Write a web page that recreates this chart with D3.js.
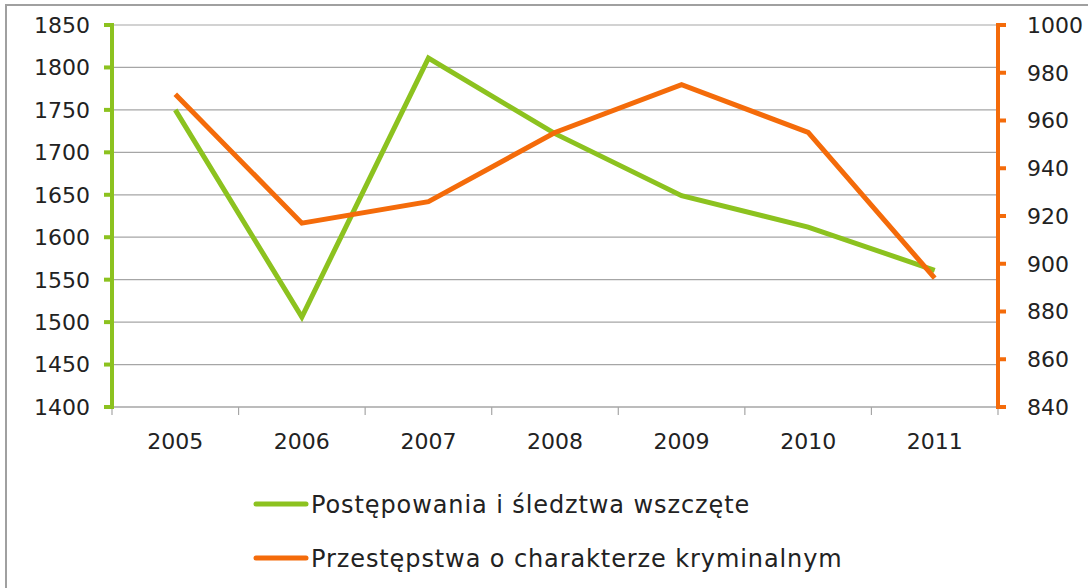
<!DOCTYPE html>
<html>
<head>
<meta charset="utf-8">
<script src="https://cdn.jsdelivr.net/npm/d3@7"></script>
<style>
  body { margin: 0; background: #fff; }
  svg text { font-family: "DejaVu Sans", sans-serif; fill: #222; }
</style>
</head>
<body>
<div id="chart"></div>
<script>
// Dual axis line chart: proceedings vs criminal offences 2005-2011

const years = ["2005", "2006", "2007", "2008", "2009", "2010", "2011"];
const postepowania = [1750, 1506, 1811, 1722, 1649, 1612, 1561];
const przestepstwa = [971, 917, 926, 955, 975, 955, 894];
const leftTicks = [1400, 1450, 1500, 1550, 1600, 1650, 1700, 1750, 1800, 1850];
const rightTicks = [840, 860, 880, 900, 920, 940, 960, 980, 1000];
const seriesNames = ["Postępowania i śledztwa wszczęte", "Przestępstwa o charakterze kryminalnym"];

const width = 1088, height = 588;
const plotLeft = 112, plotRight = 998, plotTop = 25, plotBottom = 407;
const green = "#8cc21f", orange = "#f46b0a";

const svg = d3.select("#chart")
    .append("svg")
    .attr("width", width)
    .attr("height", height);

// outer frame (right and bottom edges fall outside the picture)
svg.append("rect")
    .attr("x", 6).attr("y", 5)
    .attr("width", 1200).attr("height", 700)
    .attr("fill", "none")
    .attr("stroke", "#a0a0a0")
    .attr("stroke-width", 2);

const x = d3.scaleBand().domain(years).range([plotLeft, plotRight]).padding(0);
const yL = d3.scaleLinear().domain([1400, 1850]).range([plotBottom, plotTop]);
const yR = d3.scaleLinear().domain([840, 1000]).range([plotBottom, plotTop]);

// gridlines
svg.append("g")
    .selectAll("line")
    .data(leftTicks)
    .join("line")
    .attr("x1", plotLeft).attr("x2", plotRight)
    .attr("y1", d => yL(d)).attr("y2", d => yL(d))
    .attr("stroke", "#a6a6a6")
    .attr("stroke-width", 1.2);

// x axis: line with ticks at category boundaries
const xAxis = svg.append("g");
xAxis.append("line")
    .attr("x1", plotLeft).attr("x2", plotRight)
    .attr("y1", plotBottom).attr("y2", plotBottom)
    .attr("stroke", "#a6a6a6").attr("stroke-width", 1.2);
xAxis.selectAll("line.tick")
    .data(years.concat(["end"]))
    .join("line")
    .attr("class", "tick")
    .attr("x1", d => d === "end" ? plotRight : x(d))
    .attr("x2", d => d === "end" ? plotRight : x(d))
    .attr("y1", plotBottom).attr("y2", plotBottom + 8)
    .attr("stroke", "#a6a6a6").attr("stroke-width", 1.2);
xAxis.selectAll("text")
    .data(years)
    .join("text")
    .attr("x", d => x(d) + x.bandwidth() / 2)
    .attr("y", 449)
    .attr("text-anchor", "middle")
    .style("font-size", "22px")
    .text(d => d);

// left axis (green)
const gL = svg.append("g");
gL.append("line")
    .attr("x1", plotLeft).attr("x2", plotLeft)
    .attr("y1", plotTop - 2).attr("y2", plotBottom + 2)
    .attr("stroke", green).attr("stroke-width", 4);
gL.selectAll("line.tick")
    .data(leftTicks)
    .join("line")
    .attr("class", "tick")
    .attr("x1", plotLeft - 8).attr("x2", plotLeft)
    .attr("y1", d => yL(d)).attr("y2", d => yL(d))
    .attr("stroke", green).attr("stroke-width", 4);
gL.selectAll("text")
    .data(leftTicks)
    .join("text")
    .attr("x", 90)
    .attr("y", d => yL(d))
    .attr("dy", "0.36em")
    .attr("text-anchor", "end")
    .style("font-size", "22px")
    .text(d => d);

// right axis (orange)
const gR = svg.append("g");
gR.append("line")
    .attr("x1", plotRight).attr("x2", plotRight)
    .attr("y1", plotTop - 2).attr("y2", plotBottom + 2)
    .attr("stroke", orange).attr("stroke-width", 4);
gR.selectAll("line.tick")
    .data(rightTicks)
    .join("line")
    .attr("class", "tick")
    .attr("x1", plotRight).attr("x2", plotRight + 8)
    .attr("y1", d => yR(d)).attr("y2", d => yR(d))
    .attr("stroke", orange).attr("stroke-width", 4);
gR.selectAll("text")
    .data(rightTicks)
    .join("text")
    .attr("x", 1027)
    .attr("y", d => yR(d))
    .attr("dy", "0.36em")
    .style("font-size", "22px")
    .text(d => d);

// lines
const cx = d => x(d) + x.bandwidth() / 2;
const lineL = d3.line().x((d, i) => cx(years[i])).y(d => yL(d));
const lineR = d3.line().x((d, i) => cx(years[i])).y(d => yR(d));

svg.append("path")
    .attr("d", lineL(postepowania))
    .attr("fill", "none")
    .attr("stroke", green)
    .attr("stroke-width", 5);

svg.append("path")
    .attr("d", lineR(przestepstwa))
    .attr("fill", "none")
    .attr("stroke", orange)
    .attr("stroke-width", 5);

// legend
const legend = svg.append("g");
[green, orange].forEach((c, i) => {
    const ly = 504 + i * 54;
    legend.append("line")
        .attr("x1", 256).attr("x2", 306)
        .attr("y1", ly).attr("y2", ly)
        .attr("stroke", c)
        .attr("stroke-width", 5)
        .attr("stroke-linecap", "round");
    legend.append("text")
        .attr("x", 311)
        .attr("y", ly)
        .attr("dy", "0.36em")
        .style("font-size", "24px")
        .style("letter-spacing", "0.9px")
        .text(seriesNames[i]);
});
</script>
</body>
</html>
